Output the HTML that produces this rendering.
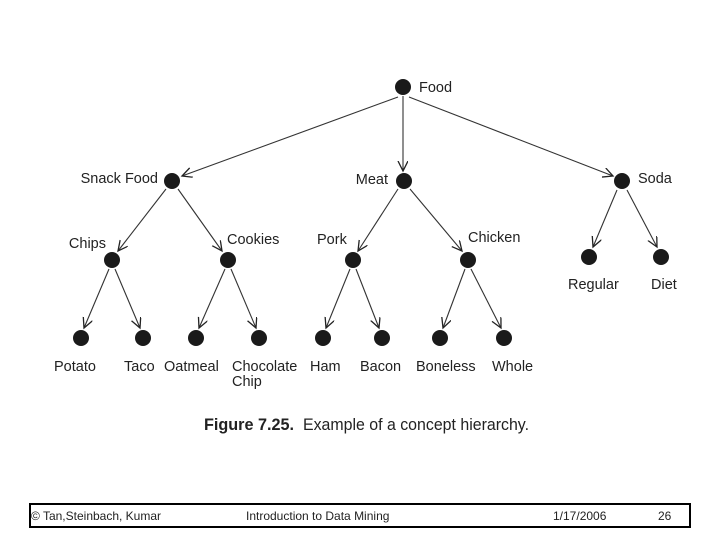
<!DOCTYPE html>
<html><head><meta charset="utf-8"><style>
body{margin:0;background:#fff;width:720px;height:540px;overflow:hidden}
svg{display:block}
text{font-family:"Liberation Sans",Arial,sans-serif;fill:#222}
</style></head><body>
<svg width="720" height="540" viewBox="0 0 720 540">
<defs><marker id="a" markerWidth="12" markerHeight="12" refX="10" refY="5" orient="auto" markerUnits="userSpaceOnUse">
<path d="M0,0 L10,5 L0,10" fill="none" stroke="#222" stroke-width="1.3"/></marker></defs>
<g stroke="#333" stroke-width="1.1" marker-end="url(#a)">
<line x1="398" y1="97" x2="182" y2="176"/>
<line x1="403" y1="96" x2="403" y2="171"/>
<line x1="409" y1="97" x2="613" y2="176"/>
<line x1="166" y1="189" x2="118" y2="251"/>
<line x1="178" y1="189" x2="222" y2="251"/>
<line x1="398" y1="189" x2="358" y2="251"/>
<line x1="410" y1="189" x2="462" y2="251"/>
<line x1="617" y1="190" x2="593" y2="247"/>
<line x1="627" y1="190" x2="657" y2="247"/>
<line x1="109" y1="269" x2="84" y2="328"/>
<line x1="115" y1="269" x2="140" y2="328"/>
<line x1="225" y1="269" x2="199" y2="328"/>
<line x1="231" y1="269" x2="256" y2="328"/>
<line x1="350" y1="269" x2="326" y2="328"/>
<line x1="356" y1="269" x2="379" y2="328"/>
<line x1="465" y1="269" x2="443" y2="328"/>
<line x1="471" y1="269" x2="501" y2="328"/>
</g>
<g fill="#1a1a1a">
<circle cx="403" cy="87" r="8"/>
<circle cx="172" cy="181" r="8"/><circle cx="404" cy="181" r="8"/><circle cx="622" cy="181" r="8"/>
<circle cx="112" cy="260" r="8"/><circle cx="228" cy="260" r="8"/><circle cx="353" cy="260" r="8"/><circle cx="468" cy="260" r="8"/>
<circle cx="589" cy="257" r="8"/><circle cx="661" cy="257" r="8"/>
<circle cx="81" cy="338" r="8"/><circle cx="143" cy="338" r="8"/><circle cx="196" cy="338" r="8"/><circle cx="259" cy="338" r="8"/>
<circle cx="323" cy="338" r="8"/><circle cx="382" cy="338" r="8"/><circle cx="440" cy="338" r="8"/><circle cx="504" cy="338" r="8"/>
</g>
<g font-size="14.5">
<text x="419" y="92">Food</text>
<text x="158" y="183" text-anchor="end">Snack Food</text>
<text x="388" y="184" text-anchor="end">Meat</text>
<text x="638" y="183">Soda</text>
<text x="106" y="248" text-anchor="end">Chips</text>
<text x="227" y="244">Cookies</text>
<text x="317" y="244">Pork</text>
<text x="468" y="242">Chicken</text>
<text x="568" y="289">Regular</text>
<text x="651" y="289">Diet</text>
<text x="54" y="371">Potato</text>
<text x="124" y="371">Taco</text>
<text x="164" y="371">Oatmeal</text>
<text x="232" y="371">Chocolate</text>
<text x="232" y="386">Chip</text>
<text x="310" y="371">Ham</text>
<text x="360" y="371">Bacon</text>
<text x="416" y="371">Boneless</text>
<text x="492" y="371">Whole</text>
</g>
<text x="204" y="430" font-size="17" font-weight="bold" textLength="90" lengthAdjust="spacingAndGlyphs">Figure 7.25.</text>
<text x="303" y="430" font-size="17" textLength="226" lengthAdjust="spacingAndGlyphs">Example of a concept hierarchy.</text>
<rect x="30" y="504" width="660" height="23" fill="none" stroke="#000" stroke-width="2"/>
<g font-size="12" fill="#000">
<text x="31" y="520">© Tan,Steinbach, Kumar</text>
<text x="246" y="520">Introduction to Data Mining</text>
<text x="553" y="520">1/17/2006</text>
<text x="658" y="520">26</text>
</g>
</svg>
</body></html>
